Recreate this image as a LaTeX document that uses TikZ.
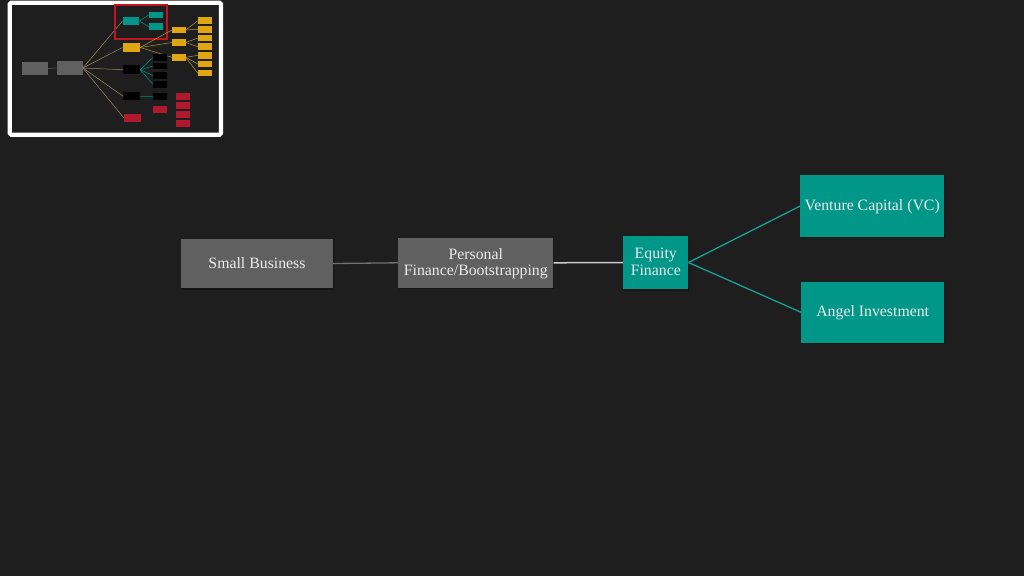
\documentclass[tikz,border=0pt]{standalone}
\usepackage{fontspec}
\setmainfont{Liberation Serif}
\usetikzlibrary{shadows}
\definecolor{bgdark}{HTML}{1E1E1E}
\definecolor{greybox}{HTML}{606060}
\definecolor{tealbox}{HTML}{009688}
\definecolor{yellowbox}{HTML}{DFA512}
\definecolor{redbox}{HTML}{B0182C}
\definecolor{framered}{HTML}{C0151F}
\tikzset{
  bigbox/.style={rectangle, inner sep=0pt, align=center, text=white!92!black, text depth=1.5pt,
    font=\fontsize{15.8}{16.4}\selectfont,
    drop shadow={shadow xshift=1pt, shadow yshift=-1.5pt, fill=black, opacity=0.3}},
  thumbbox/.style={rectangle, inner sep=0pt, minimum width=14pt, minimum height=6.5pt},
  thumbwire/.style={line width=0.5pt, color=#1}
}
\begin{document}
\begin{tikzpicture}[x=1pt, y=-1pt]
      \fill[bgdark] (0,0) rectangle (1024,576);
      \useasboundingbox (0,0) rectangle (1024,576);
      % large boxes
      \node[bigbox, fill=greybox, minimum width=152pt, minimum height=49.5pt] (small) at (257,263.5) {Small Business};
      \node[bigbox, fill=greybox, minimum width=155pt, minimum height=49.5pt] (personal) at (475.8,262.8) {Personal\\Finance/Bootstrapping};
      \node[bigbox, fill=tealbox, minimum width=65pt, minimum height=53pt] (equity) at (655.8,262.5) {Equity\\Finance};
      \node[bigbox, fill=tealbox, minimum width=143.7pt, minimum height=61.4pt] (vc) at (872.2,206) {Venture Capital (VC)};
      \node[bigbox, fill=tealbox, minimum width=143.3pt, minimum height=61pt] (angel) at (872.7,312.2) {Angel Investment};
      \draw[line width=1.3pt, color=greybox!90!white] (small.east) -- (personal.west);
      \draw[line width=1.5pt, color=white!80!black] (personal.east) -- (equity.west);
      \draw[line width=1.3pt, color=tealbox!90!white] (equity.east) -- (vc.west);
      \draw[line width=1.3pt, color=tealbox!90!white] (equity.east) -- (angel.west);
      % thumbnail
      \draw[white, line width=4.2pt, rounded corners=1.5pt] (9.7,2.7) rectangle (221,134.7);
      \node[thumbbox, fill=greybox, minimum width=26pt, minimum height=12.5pt] (tsmall) at (34.7,68.4) {};
      \node[thumbbox, fill=greybox, minimum width=26pt, minimum height=13.4pt] (tpersonal) at (69.7,68) {};
      \draw[thumbwire=greybox] (tsmall.east) -- (tpersonal.west);
      \node[thumbbox, fill=tealbox, minimum width=16.6pt, minimum height=8.6pt] (tequity) at (131,21) {};
      \node[thumbbox, fill=yellowbox, minimum width=17.3pt, minimum height=9pt] (tdebt) at (131.3,47.5) {};
      \node[thumbbox, fill=black, minimum width=16.7pt, minimum height=8.7pt] (tblacka) at (131.7,69.7) {};
      \node[thumbbox, fill=black, minimum width=16.7pt, minimum height=8pt] (tblackb) at (131.7,96.3) {};
      \node[thumbbox, fill=redbox, minimum width=17.3pt, minimum height=7.4pt] (tred) at (132.7,118) {};
      \foreach \target in {tequity, tdebt, tblacka, tblackb, tred} {
          \draw[thumbwire=yellowbox!30!gray] (tpersonal.east) -- (\target.west);
      }
      \draw[framered, line width=2pt] (114.7,4.7) rectangle (166.7,39);
      % teal leaves
      \foreach \y/\name in {15/tvc, 26.7/tangel} {
          \node[thumbbox, fill=tealbox] (\name) at (156,\y) {};
          \draw[thumbwire=tealbox] (tequity.east) -- (\name.west);
      }
      % yellow branches
      \foreach \y/\name in {30/tya, 42.5/tyb, 57.3/tyc} {
          \node[thumbbox, fill=yellowbox, minimum width=13.5pt] (\name) at (178.8,\y) {};
          \draw[thumbwire=yellowbox!60!gray] (tdebt.east) -- (\name.west);
      }
      \foreach \y/\name/\from in {20.7/tyra/tya, 29.3/tyrb/tya, 38/tyrc/tyb, 46.7/tyrd/tyb, 55.3/tyre/tyc, 64/tyrf/tyc, 73.2/tyrg/tyc} {
          \node[thumbbox, fill=yellowbox] (\name) at (205,\y) {};
          \draw[thumbwire=yellowbox!60!gray] (\from.east) -- (\name.west);
      }
      % black leaves
      \foreach \y/\name in {57.3/tka, 66/tkb, 75.6/tkc, 84.3/tkd} {
          \node[thumbbox, fill=black, minimum width=13.4pt] (\name) at (160,\y) {};
          \draw[thumbwire=tealbox] (tblacka.east) -- (\name.west);
      }
      \node[thumbbox, fill=black, minimum width=13.4pt] (tke) at (160,96.3) {};
      \draw[thumbwire=tealbox!70!black] (tblackb.east) -- (tke.west);
      % red leaves
      \node[thumbbox, fill=redbox] (trm) at (160,109.3) {};
      \foreach \y/\name in {96.3/tra, 105.3/trb, 114.7/trc, 123.7/trd} {
          \node[thumbbox, fill=redbox] (\name) at (182.5,\y) {};
      }
\end{tikzpicture}
\end{document}
